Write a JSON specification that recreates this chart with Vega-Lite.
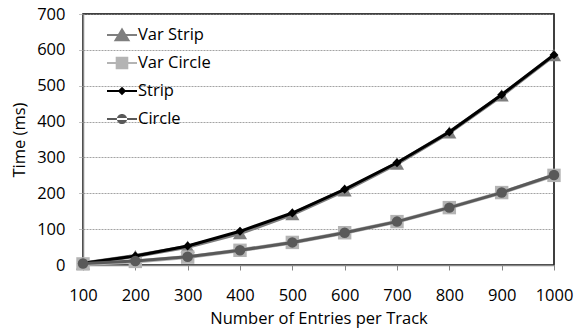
{
  "$schema": "https://vega.github.io/schema/vega-lite/v6.json",
  "width": 471,
  "height": 251,
  "autosize": {"type": "none"},
  "padding": {"left": 83, "top": 14, "right": 22, "bottom": 65},
  "background": "white",
  "config": {
    "font": "Open Sans",
    "view": {"stroke": "black", "strokeWidth": 1.5},
    "axis": {"labelFont": "Open Sans", "titleFont": "Open Sans", "labelFontSize": 16.5, "titleFontSize": 16.5, "titleFontWeight": "normal", "labelColor": "black", "titleColor": "black", "domainColor": "#868686", "domainWidth": 1.5, "tickColor": "#868686"}
  },
  "data": {
    "values": [
      {"n": 100, "series": "Var Strip", "t": 4},
      {"n": 200, "series": "Var Strip", "t": 25},
      {"n": 300, "series": "Var Strip", "t": 51},
      {"n": 400, "series": "Var Strip", "t": 89},
      {"n": 500, "series": "Var Strip", "t": 142},
      {"n": 600, "series": "Var Strip", "t": 208},
      {"n": 700, "series": "Var Strip", "t": 283},
      {"n": 800, "series": "Var Strip", "t": 370},
      {"n": 900, "series": "Var Strip", "t": 473},
      {"n": 1000, "series": "Var Strip", "t": 585},
      {"n": 100, "series": "Var Circle", "t": 3},
      {"n": 200, "series": "Var Circle", "t": 10},
      {"n": 300, "series": "Var Circle", "t": 22},
      {"n": 400, "series": "Var Circle", "t": 41},
      {"n": 500, "series": "Var Circle", "t": 63},
      {"n": 600, "series": "Var Circle", "t": 90},
      {"n": 700, "series": "Var Circle", "t": 121},
      {"n": 800, "series": "Var Circle", "t": 160},
      {"n": 900, "series": "Var Circle", "t": 202},
      {"n": 1000, "series": "Var Circle", "t": 250},
      {"n": 100, "series": "Strip", "t": 5},
      {"n": 200, "series": "Strip", "t": 25},
      {"n": 300, "series": "Strip", "t": 53},
      {"n": 400, "series": "Strip", "t": 94},
      {"n": 500, "series": "Strip", "t": 145},
      {"n": 600, "series": "Strip", "t": 211},
      {"n": 700, "series": "Strip", "t": 285},
      {"n": 800, "series": "Strip", "t": 371},
      {"n": 900, "series": "Strip", "t": 475},
      {"n": 1000, "series": "Strip", "t": 586},
      {"n": 100, "series": "Circle", "t": 4},
      {"n": 200, "series": "Circle", "t": 11},
      {"n": 300, "series": "Circle", "t": 23},
      {"n": 400, "series": "Circle", "t": 41},
      {"n": 500, "series": "Circle", "t": 63},
      {"n": 600, "series": "Circle", "t": 90},
      {"n": 700, "series": "Circle", "t": 121},
      {"n": 800, "series": "Circle", "t": 160},
      {"n": 900, "series": "Circle", "t": 202},
      {"n": 1000, "series": "Circle", "t": 251}
    ]
  },
  "encoding": {
    "x": {"field": "n", "type": "quantitative", "title": "Number of Entries per Track",
      "scale": {"domain": [100, 1000], "nice": false, "zero": false},
      "axis": {"values": [100, 200, 300, 400, 500, 600, 700, 800, 900, 1000], "format": "d", "grid": false, "tickSize": 5, "labelPadding": 17, "titlePadding": 7, "labelFlush": false}},
    "y": {"field": "t", "type": "quantitative", "title": "Time (ms)",
      "scale": {"domain": [0, 700], "nice": false},
      "axis": {"values": [0, 100, 200, 300, 400, 500, 600, 700], "grid": true, "gridColor": "#8c8c8c", "gridDash": [2, 1], "gridWidth": 0.8, "tickSize": 4, "tickDash": [2, 1], "labelPadding": 14, "titlePadding": 9}}
  },
  "layer": [
    {
      "transform": [{"filter": "datum.series == 'Var Strip'"}],
      "mark": {"type": "line", "strokeWidth": 4, "color": "#7f7f7f"},
      "encoding": {}
    },
    {
      "transform": [{"filter": "datum.series == 'Var Strip'"}],
      "mark": {"type": "point", "shape": "triangle-up", "filled": true, "opacity": 1, "size": 200, "color": "#7f7f7f"}
    },
    {
      "transform": [{"filter": "datum.series == 'Var Circle'"}],
      "mark": {"type": "line", "strokeWidth": 4, "color": "#b4b4b4"},
      "encoding": {}
    },
    {
      "transform": [{"filter": "datum.series == 'Var Circle'"}],
      "mark": {"type": "point", "shape": "square", "filled": true, "opacity": 1, "size": 180, "color": "#b4b4b4"}
    },
    {
      "transform": [{"filter": "datum.series == 'Strip'"}],
      "mark": {"type": "line", "strokeWidth": 3, "color": "#000000"},
      "encoding": {}
    },
    {
      "transform": [{"filter": "datum.series == 'Strip'"}],
      "mark": {"type": "point", "shape": "diamond", "filled": true, "opacity": 1, "size": 80, "color": "#000000"}
    },
    {
      "transform": [{"filter": "datum.series == 'Circle'"}],
      "mark": {"type": "line", "strokeWidth": 3, "color": "#595959"},
      "encoding": {}
    },
    {
      "transform": [{"filter": "datum.series == 'Circle'"}],
      "mark": {"type": "point", "shape": "circle", "filled": true, "opacity": 1, "size": 110, "color": "#595959"}
    },
    {
      "mark": {"type": "point", "filled": true, "opacity": 1, "size": 0},
      "encoding": {
        "fill": {"field": "series", "type": "nominal",
          "scale": {"domain": ["Var Strip", "Var Circle", "Strip", "Circle"], "range": ["#7f7f7f", "#b4b4b4", "#000000", "#595959"]},
          "legend": {"title": null, "orient": "none", "legendX": 24, "legendY": 6, "symbolSize": 900, "symbolStrokeWidth": 0, "rowPadding": 4, "labelOffset": 1, "labelFont": "Open Sans", "labelFontSize": 16.5, "labelColor": "black", "symbolOpacity": 1}},
        "shape": {"field": "series", "type": "nominal",
          "scale": {"domain": ["Var Strip", "Var Circle", "Strip", "Circle"], "range": [
            "M-1,-0.07L1,-0.07L1,0.07L-1,0.07Z M0,-0.5L0.55,0.42L-0.55,0.42Z",
            "M-1,-0.07L1,-0.07L1,0.07L-1,0.07Z M-0.42,-0.42L0.42,-0.42L0.42,0.42L-0.42,0.42Z",
            "M-1,-0.06L1,-0.06L1,0.06L-1,0.06Z M-0.28,0L0,-0.28L0.28,0L0,0.28Z",
            "M-1,-0.06L1,-0.06L1,0.06L-1,0.06Z M-0.34,0A0.34,0.34 0 1,0 0.34,0A0.34,0.34 0 1,0 -0.34,0Z"]},
          "legend": {"title": null, "orient": "none", "legendX": 24, "legendY": 6, "symbolSize": 900, "symbolStrokeWidth": 0, "rowPadding": 4, "labelOffset": 1, "labelFont": "Open Sans", "labelFontSize": 16.5, "labelColor": "black", "symbolOpacity": 1}}
      }
    }
  ]
}
